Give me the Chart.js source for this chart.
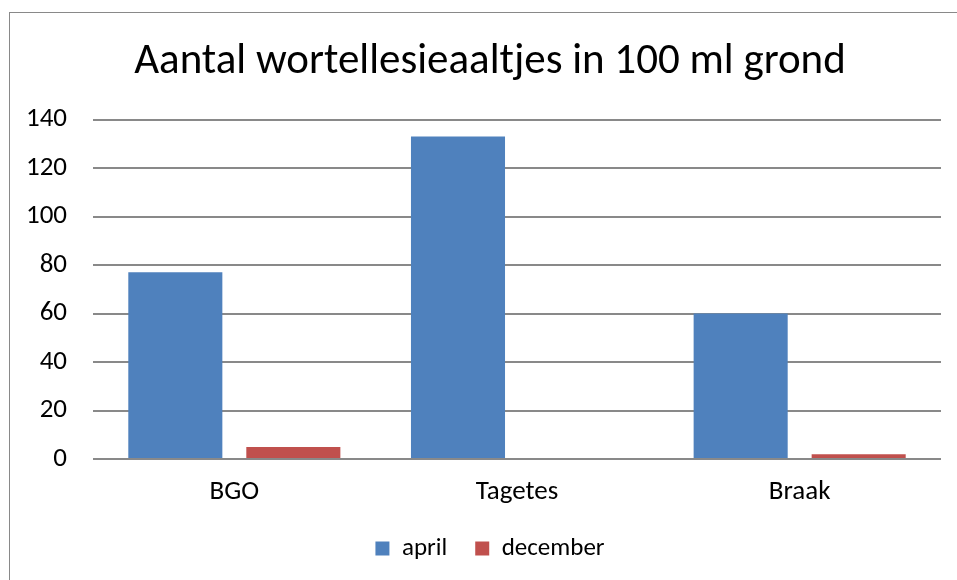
<!DOCTYPE html>
<html>
<head>
<meta charset="utf-8">
<script src="https://cdn.jsdelivr.net/npm/chart.js@4"></script>
<style>
  body { margin: 0; background: #fff; }
  #wrap { position: relative; width: 957px; height: 580px; overflow: hidden; }
  #frame { position: absolute; left: 9px; top: 12px; width: 1000px; height: 1000px;
           border-left: 1px solid #898989; border-top: 1px solid #898989; }
  canvas { position: absolute; left: 0; top: 0; }
</style>
</head>
<body>
<div id="wrap">
  <div id="frame"></div>
  <canvas id="myChart" width="957" height="580"></canvas>
</div>
<script>
const categories = ['BGO', 'Tagetes', 'Braak'];
const april = [77, 133, 60];
const december = [5, 0, 2];
const yTicks = [0, 20, 40, 60, 80, 100, 120, 140];

const font = "Calibri, Carlito, 'Liberation Sans Narrow', 'Open Sans', sans-serif";

const ctx = document.getElementById('myChart').getContext('2d');
const myChart = new Chart(ctx, {
  type: 'bar',
  data: {
    labels: categories,
    datasets: [{
      label: 'april',
      data: april,
      backgroundColor: '#4F81BD',
      categoryPercentage: 0.835,
      barPercentage: 0.797
    }, {
      label: 'december',
      data: december,
      backgroundColor: '#C0504D',
      categoryPercentage: 0.835,
      barPercentage: 0.797
    }]
  },
  options: {
    responsive: false,
    animation: false,
    layout: { padding: { left: 24, right: 1, top: 0, bottom: 9 } },
    plugins: {
      title: {
        display: true,
        text: 'Aantal wortellesieaaltjes in 100 ml grond',
        color: '#000',
        font: { family: font, size: 43, weight: 'normal' },
        padding: { top: 36, bottom: 32 }
      },
      legend: {
        position: 'bottom',
        labels: {
          color: '#000',
          font: { family: font, size: 25 },
          boxWidth: 14,
          boxHeight: 14,
          padding: 28
        }
      },
      tooltip: { enabled: false }
    },
    scales: {
      x: {
        afterFit: (axis) => { axis.height = 49; },
        grid: { display: false },
        border: { display: false },
        ticks: { color: '#000', font: { family: font, size: 27 }, padding: 9 }
      },
      y: {
        min: 0,
        max: 140,
        afterBuildTicks: (axis) => { axis.ticks = yTicks.map(v => ({ value: v })); },
        afterFit: (axis) => { axis.width = 69; },
        grid: { color: '#898989', lineWidth: 2, drawTicks: false },
        border: { display: false },
        ticks: { color: '#000', font: { family: font, size: 27 }, padding: 26 }
      },
      // empty right-hand box, only keeps the plot area off the right edge
      yRight: {
        position: 'right',
        display: true,
        afterFit: (axis) => { axis.width = 15; },
        grid: { display: false },
        border: { display: false },
        ticks: { display: false }
      }
    }
  }
});
</script>
</body>
</html>
